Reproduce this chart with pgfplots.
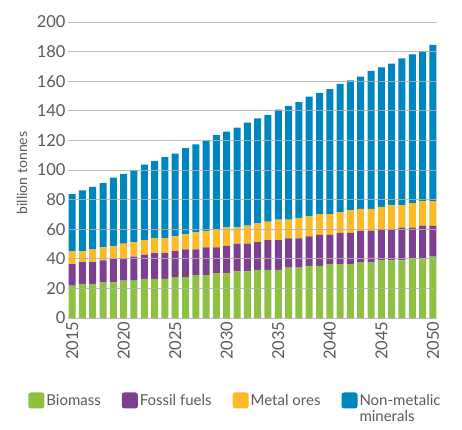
\documentclass[border=0pt]{standalone}
\usepackage{fontspec}
\setmainfont{Lato}
\usepackage{pgfplots}
\pgfplotsset{compat=1.18}
\usepackage{pgfplotstable}
\definecolor{cbio}{RGB}{141,192,67}
\definecolor{cfos}{RGB}{125,64,145}
\definecolor{cmet}{RGB}{253,186,39}
\definecolor{cnon}{RGB}{0,134,190}
\definecolor{ctxt}{RGB}{90,90,90}
\pgfplotstableread{
year bio fos met non
2015 21.8 14.6 8.6 38.7
2016 23.0 14.8 7.2 41.2
2017 23.0 14.8 8.5 42.3
2018 24.0 14.9 8.8 43.4
2019 24.0 16.3 8.5 46.1
2020 25.2 15.1 9.9 47.2
2021 25.2 16.2 9.9 48.8
2022 26.5 16.2 9.9 51.1
2023 26.5 17.4 10.1 52.2
2024 26.5 17.4 10.1 54.7
2025 27.7 17.5 9.9 56.0
2026 27.7 18.6 10.2 58.2
2027 29.0 17.3 11.5 59.6
2028 29.0 18.7 11.2 61.0
2029 30.1 17.6 12.3 63.5
2030 30.1 18.7 12.4 64.8
2031 31.5 18.7 11.0 67.4
2032 31.5 18.7 12.3 69.5
2033 32.6 18.7 12.6 70.9
2034 32.6 20.0 12.6 71.8
2035 32.6 20.0 13.8 74.4
2036 34.0 19.8 12.6 76.9
2037 34.0 19.8 13.9 78.1
2038 35.3 19.8 13.7 80.8
2039 35.3 20.9 14.0 81.9
2040 36.4 19.8 14.0 84.4
2041 36.4 21.2 13.7 86.9
2042 36.4 21.2 15.1 87.9
2043 37.8 21.1 14.9 89.3
2044 37.8 21.1 14.9 93.1
2045 38.9 21.2 15.0 94.3
2046 38.9 21.2 16.2 95.6
2047 38.9 22.1 15.3 99.2
2048 40.3 20.7 16.6 100.6
2049 40.3 22.0 16.7 101.4
2050 41.4 20.9 16.7 105.5
}\datatable
\begin{document}
\begin{tikzpicture}
\path[use as bounding box] (-68pt,-111pt) rectangle (394pt,318pt);
\begin{axis}[
  at={(0,0)}, anchor=south west,
  scale only axis, width=369pt, height=296pt,
  ybar stacked, bar width=7pt,
  xmin=2014.6, xmax=2050.4, ymin=0, ymax=200,
  ytick={0,20,...,200}, xtick={2015,2020,...,2050},
  /pgf/number format/1000 sep={},
  /pgf/number format/assume math mode=true,
  font=\fontsize{14}{16}\selectfont,
  tick label style={text=ctxt, font=\fontsize{16.5}{18}\selectfont},
  yticklabel style={xshift=1pt},
  x tick label style={rotate=90, anchor=east},
  major tick length=0pt,
  axis line style={draw=none},
  ymajorgrids, grid style={draw=gray!60, line width=0.8pt, opacity=0.85},
  axis on top,
  ylabel={billion tonnes},
  ylabel style={at={(axis description cs:-0.1247,0.49)}, anchor=center, text=ctxt},
  legend style={at={(axis description cs:-0.108,-0.25)}, anchor=north west,
    draw=none, fill=none, inner sep=0pt, text=ctxt,
    font=\fontsize{15}{17}\selectfont,
    /tikz/every even column/.append style={column sep=19pt}},
  legend columns=4,
  legend cell align=left,
  legend image code/.code={\fill[#1, draw=none, rounded corners=2.5pt] (0pt,-8pt) rectangle (16pt,8pt);},
]
\addplot[fill=cbio, draw=none] table[x=year, y=bio] {\datatable};
\addlegendentry{Biomass}
\addplot[fill=cfos, draw=none] table[x=year, y=fos] {\datatable};
\addlegendentry{Fossil fuels}
\addplot[fill=cmet, draw=none] table[x=year, y=met] {\datatable};
\addlegendentry{Metal ores}
\addplot[fill=cnon, draw=none] table[x=year, y=non] {\datatable};
\addlegendentry{\rlap{\raisebox{-16pt}[0pt][0pt]{minerals}}Non-metalic}
\end{axis}
\end{tikzpicture}
\end{document}
